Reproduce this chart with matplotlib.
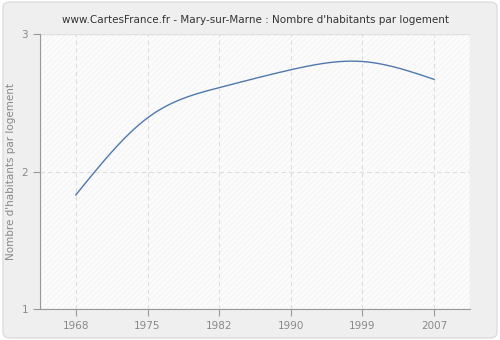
import numpy as np
import matplotlib
matplotlib.use("Agg")
import matplotlib.pyplot as plt
from matplotlib.patches import FancyBboxPatch

years = ["1968", "1975", "1982", "1990", "1999", "2007"]
values = [1.83, 2.39, 2.61, 2.74, 2.80, 2.67]
yticks = [1, 2, 3]

def natural_spline(x, y, n=300):
    x = np.asarray(x, float); y = np.asarray(y, float)
    k = len(x)
    h = np.diff(x)
    A = np.zeros((k, k)); b = np.zeros(k)
    A[0, 0] = 1; A[-1, -1] = 1
    for i in range(1, k - 1):
        A[i, i - 1] = h[i - 1]; A[i, i] = 2 * (h[i - 1] + h[i]); A[i, i + 1] = h[i]
        b[i] = 3 * ((y[i + 1] - y[i]) / h[i] - (y[i] - y[i - 1]) / h[i - 1])
    c = np.linalg.solve(A, b)
    xs = np.linspace(x[0], x[-1], n)
    ys = np.empty_like(xs)
    for j, xv in enumerate(xs):
        i = min(np.searchsorted(x, xv, side="right") - 1, k - 2)
        d = xv - x[i]
        bi = (y[i + 1] - y[i]) / h[i] - h[i] * (2 * c[i] + c[i + 1]) / 3
        di = (c[i + 1] - c[i]) / (3 * h[i])
        ys[j] = y[i] + bi * d + c[i] * d ** 2 + di * d ** 3
    return xs, ys

plt.rcParams['hatch.linewidth'] = 0.4

fig = plt.figure(figsize=(5, 3.4), dpi=100)
fig.patch.set_facecolor("white")
bg = FancyBboxPatch((0.006, 0.006), 0.988, 0.988, boxstyle="round,pad=0,rounding_size=0.015",
                    transform=fig.transFigure, facecolor="#efefef", edgecolor="#dddddd", lw=1, zorder=-10)
fig.patches.append(bg)

ax = fig.add_axes([0.08, 0.091, 0.86, 0.809])
ax.set_facecolor("#fbfbfb")
ax.add_patch(plt.Rectangle((0, 0), 1, 1, transform=ax.transAxes, facecolor="none",
                           edgecolor="#f0f0f0", hatch="//////", lw=0, zorder=0))
ax.add_patch(plt.Rectangle((0, 0), 1, 1, transform=ax.transAxes, facecolor="none",
                           edgecolor="#e4e4e4", lw=1, zorder=0.5))

x = np.arange(len(years))
xs, ys = natural_spline(x, values)
ax.plot(xs, ys, color="#4f78ad", lw=1.0, zorder=3)

ax.set_xlim(-0.5, 5.5)
ax.set_ylim(1, 3)
ax.set_xticks(x)
ax.set_xticklabels(years)
ax.set_yticks(yticks)
ax.grid(True, color="#dedede", linestyle=(0, (4, 3)), lw=0.8, zorder=1)
for s in ["top", "right"]:
    ax.spines[s].set_visible(False)
for s in ["left", "bottom"]:
    ax.spines[s].set_color("#999999")
ax.tick_params(colors="#999999", labelcolor="#888888", labelsize=7.5, length=5, width=0.8)
ax.set_ylabel("Nombre d'habitants par logement", fontsize=7.5, color="#888888")
ax.set_title("www.CartesFrance.fr - Mary-sur-Marne : Nombre d'habitants par logement",
             fontsize=7.5, color="#333333", pad=8)

fig.savefig("out.png", dpi=100, facecolor=fig.get_facecolor())
